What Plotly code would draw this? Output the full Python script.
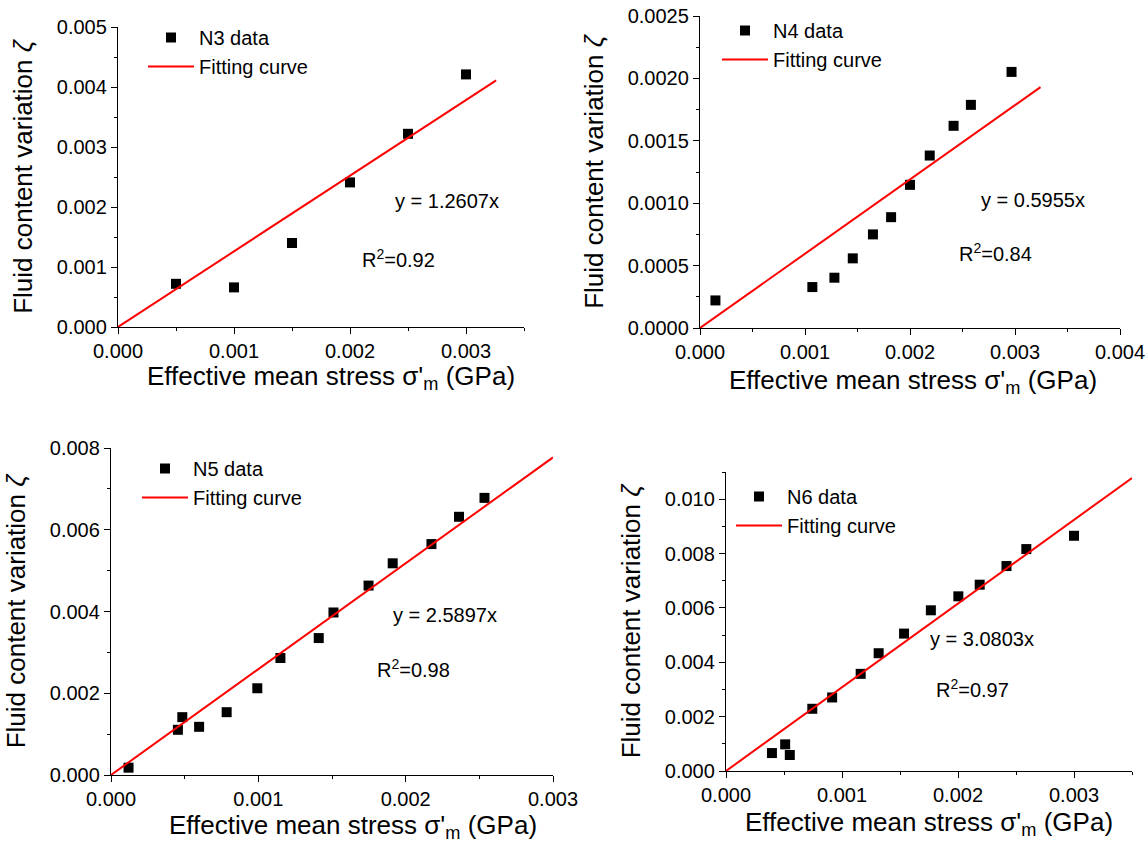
import plotly.graph_objects as go

FONT = "Liberation Sans, Arial, sans-serif"

n3_x = [0.0005, 0.0010, 0.0015, 0.0020, 0.0025, 0.0030]
n3_y = [0.00072, 0.00066, 0.00140, 0.00241, 0.00322, 0.00421]
n3_fit_x = [0.0, 0.00326]
n3_fit_y = [0.0, 0.00411]

n4_x = [0.000147, 0.00107, 0.00128, 0.001455, 0.001647, 0.00182, 0.00200,
        0.002188, 0.002415, 0.00258, 0.002967]
n4_y = [0.000221, 0.000328, 0.000403, 0.000558, 0.00075, 0.000888, 0.001147,
        0.001382, 0.00162, 0.001788, 0.002052]
n4_fit_x = [0.0, 0.003243]
n4_fit_y = [0.0, 0.00193]

n5_x = [0.000119, 0.000454, 0.000484, 0.000598, 0.000785, 0.000993, 0.00115,
        0.00141, 0.00151, 0.001748, 0.001912, 0.002175, 0.002362, 0.002535]
n5_y = [0.000179, 0.001106, 0.001415, 0.001179, 0.001537, 0.002122, 0.002862,
        0.00335, 0.003976, 0.004634, 0.005179, 0.00565, 0.006317, 0.00678]
n5_fit_x = [0.0, 0.003]
n5_fit_y = [0.0, 0.00777]

n6_x = [0.000396, 0.00051, 0.00055, 0.000744, 0.000915, 0.001161, 0.001316,
        0.001535, 0.001766, 0.002003, 0.002187, 0.002418, 0.002589, 0.003]
n6_y = [0.00066, 0.00098, 0.000588, 0.002289, 0.002705, 0.003574, 0.004333,
        0.005055, 0.005912, 0.006426, 0.006854, 0.00754, 0.008164, 0.008654]
n6_fit_x = [0.0, 0.0035]
n6_fit_y = [0.0, 0.01078]

labels = ["N3 data", "N4 data", "N5 data", "N6 data"]
equations = ["y = 1.2607x", "y = 0.5955x", "y = 2.5897x", "y = 3.0803x"]
r2_texts = ["R<sup>2</sup>=0.92", "R<sup>2</sup>=0.84", "R<sup>2</sup>=0.98", "R<sup>2</sup>=0.97"]

x_title = "Effective mean stress σ'<sub>m</sub> (GPa)"
y_title = "Fluid content variation <i>ζ</i>"

W, H = 1148, 845
fig = go.Figure()

panels = [
    (n3_x, n3_y, n3_fit_x, n3_fit_y),
    (n4_x, n4_y, n4_fit_x, n4_fit_y),
    (n5_x, n5_y, n5_fit_x, n5_fit_y),
    (n6_x, n6_y, n6_fit_x, n6_fit_y),
]

for i, (px, py, fx, fy) in enumerate(panels):
    sfx = "" if i == 0 else str(i + 1)
    leg = "legend" if i == 0 else "legend" + str(i + 1)
    fig.add_trace(go.Scatter(
        x=px, y=py, mode="markers", name=labels[i],
        marker=dict(symbol="square", size=10, color="black"),
        xaxis="x" + sfx, yaxis="y" + sfx, legend=leg, cliponaxis=False))
    fig.add_trace(go.Scatter(
        x=fx, y=fy, mode="lines", name="Fitting curve",
        line=dict(color="#ff0000", width=2),
        xaxis="x" + sfx, yaxis="y" + sfx, legend=leg))


def px_dom_x(a, b):
    return [a / W, b / W]


def px_dom_y(top, bottom):
    return [1 - bottom / H, 1 - top / H]


def make_axis(domain, rng, dtick, mdtick, fmt, anchor, title=None, standoff=16):
    ax = dict(
        domain=domain, range=rng, dtick=dtick, tick0=0, tickformat=fmt,
        ticks="outside", ticklen=6, tickwidth=1.3, tickcolor="black",
        showline=True, linecolor="black", linewidth=1.3,
        showgrid=False, zeroline=False, mirror=False, automargin=False,
        minor=dict(ticks="outside", ticklen=3, dtick=mdtick, tick0=0,
                   tickcolor="black", tickwidth=1.3, showgrid=False),
        tickfont=dict(size=20, color="black", family=FONT),
        anchor=anchor, fixedrange=True,
    )
    if title:
        ax["title"] = dict(text=title, font=dict(size=26, color="black", family=FONT),
                           standoff=standoff)
    return ax


layout_axes = {
    "xaxis": make_axis(px_dom_x(118, 524), [0, 0.0035], 0.001, 0.0005, ".3f", "y"),
    "yaxis": make_axis(px_dom_y(27, 327), [0, 0.005], 0.001, 0.0005, ".3f", "x", y_title, 16),
    "xaxis2": make_axis(px_dom_x(700, 1120), [0, 0.004], 0.001, 0.0005, ".3f", "y2"),
    "yaxis2": make_axis(px_dom_y(16, 328), [0, 0.0025], 0.0005, 0.00025, ".4f", "x2", y_title, 16),
    "xaxis3": make_axis(px_dom_x(111, 553), [0, 0.003], 0.001, 0.0005, ".3f", "y3"),
    "yaxis3": make_axis(px_dom_y(448, 775), [0, 0.008], 0.002, 0.001, ".3f", "x3", y_title, 16),
    "xaxis4": make_axis(px_dom_x(726, 1132), [0, 0.0035], 0.001, 0.0005, ".3f", "y4"),
    "yaxis4": make_axis(px_dom_y(472, 771), [0, 0.011], 0.002, 0.001, ".3f", "x4", y_title, 16),
}


def legend_at(left_px, top_px):
    return dict(
        x=left_px / W, y=1 - top_px / H, xanchor="left", yanchor="top",
        font=dict(size=20, color="black", family=FONT),
        bgcolor="rgba(0,0,0,0)", borderwidth=0, tracegroupgap=0,
        itemwidth=46, itemclick=False, itemdoubleclick=False,
    )


ann_pos = [
    (("x", "y"), (0.00284, 0.002095), (0.002416, 0.00114)),
    (("x2", "y2"), (0.00317, 0.001027), (0.002813, 0.000608)),
    (("x3", "y3"), (0.002267, 0.00392), (0.002056, 0.0026)),
    (("x4", "y4"), (0.002203, 0.00486), (0.002123, 0.00302)),
]
annotations = []
for i, ((xr, yr), eq_xy, r2_xy) in enumerate(ann_pos):
    annotations.append(dict(text=equations[i], x=eq_xy[0], y=eq_xy[1], xref=xr, yref=yr,
                            showarrow=False, font=dict(size=20, color="black", family=FONT)))
    annotations.append(dict(text=r2_texts[i], x=r2_xy[0], y=r2_xy[1], xref=xr, yref=yr,
                            showarrow=False, font=dict(size=20, color="black", family=FONT)))

# x-axis titles (pixel centres of the text block)
x_title_px = [(331, 378), (913, 381), (353, 826), (929, 823)]
for cx, cy in x_title_px:
    annotations.append(dict(text=x_title, x=cx / W, y=1 - cy / H, xref="paper", yref="paper",
                            xanchor="center", yanchor="middle", showarrow=False,
                            font=dict(size=26, color="black", family=FONT)))

fig.update_layout(
    width=W, height=H,
    margin=dict(l=0, r=0, t=0, b=0),
    paper_bgcolor="white", plot_bgcolor="white",
    font=dict(family=FONT, color="black"),
    showlegend=True,
    legend=legend_at(143, 18),
    legend2=legend_at(717, 11),
    legend3=legend_at(137, 449),
    legend4=legend_at(731, 477),
    annotations=annotations,
    **layout_axes,
)

fig.write_html("out.html")
